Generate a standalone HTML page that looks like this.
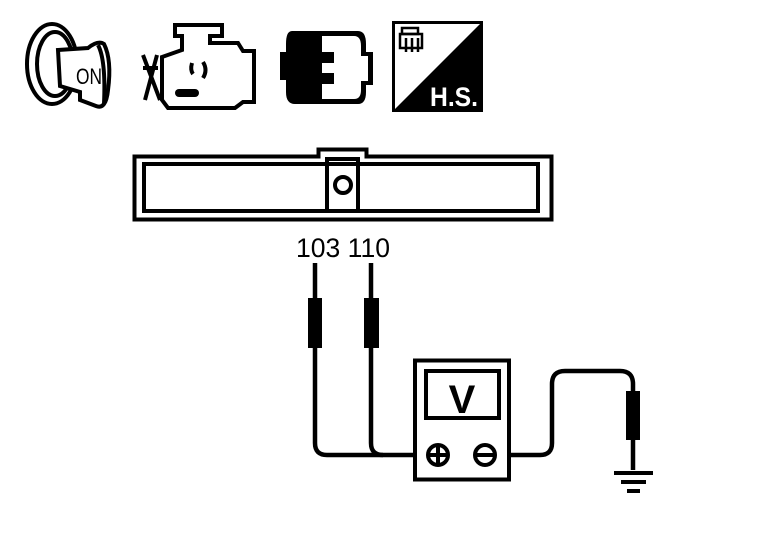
<!DOCTYPE html>
<html><head><style>body{margin:0;background:#fff}svg{display:block}</style></head>
<body>
<svg width="768" height="544" viewBox="0 0 768 544" xmlns="http://www.w3.org/2000/svg">
<!-- Key icon -->
<g fill="none" stroke="#000" stroke-width="4">
<ellipse cx="52" cy="64" rx="25" ry="40"/>
<ellipse cx="55" cy="64" rx="18" ry="32"/>
<path d="M58 50 L88 48 Q98 40 104 44 Q112 60 108 90 Q106 110 96 106 L80 100 L80 92 L60 86 Z" fill="#fff"/>
<path d="M98 45 Q106 60 104 104"/>
</g>
<text x="76" y="84" font-family="Liberation Sans,sans-serif" font-size="22" textLength="26" lengthAdjust="spacingAndGlyphs">ON</text>
<!-- Engine icon -->
<g fill="none" stroke="#000" stroke-width="4">
<path d="M175 25 L222 25 L222 36 L210 36 L210 43 L238 43 L243 51 L254 51 L254 102 L243 102 L235 108 L168 108 L162 100 L162 57 L182 50 L182 36 L175 36 Z"/>
<path d="M143 55 L160 100 M157 55 L145 100 M143 68 L158 68"/>
<path d="M192 63 Q190 70 193 74 M203 62 Q208 70 203 78"/>
</g>
<rect x="175" y="89" width="24" height="8" rx="4"/>
<!-- Connector icon -->
<path d="M292 31 L358 31 Q366 31 366 44 L366 52 L373 52 L373 85 L366 85 L366 92 Q366 104 358 104 L295 104 Q286 104 286 92 L286 80 L280 80 L280 52 L286 52 L286 44 Q286 31 292 31 Z" fill="#000"/>
<path d="M322 36 L354 36 Q361 36 361 46 L361 56 L368 56 L368 81 L361 81 L361 90 Q361 99 354 99 L322 99 L322 84 L334 84 L334 73 L322 73 L322 63 L334 63 L334 52 L322 52 Z" fill="#fff"/>
<!-- H.S. icon -->
<rect x="393.5" y="22.5" width="88" height="88" fill="#fff" stroke="#000" stroke-width="3"/>
<path d="M482 22 L482 111 L393 111 Z" fill="#000"/>
<g fill="none" stroke="#000" stroke-width="2.5"><rect x="402" y="28" width="16" height="6"/><rect x="400" y="34" width="22" height="14"/><path d="M406 38 v14 M412 38 v14 M418 38 v14"/></g>
<text x="430" y="106" font-family="Liberation Sans,sans-serif" font-weight="bold" font-size="27" fill="#fff" textLength="48" lengthAdjust="spacingAndGlyphs">H.S.</text>
<!-- Connector -->
<g fill="none" stroke="#000" stroke-width="4">
<path d="M134.5 156.5 L318.5 156.5 L318.5 149.5 L366.5 149.5 L366.5 156.5 L551.5 156.5 L551.5 219.5 L134.5 219.5 Z"/>
<path d="M144 164 L538 164 L538 211 L144 211 Z"/>
<rect x="327" y="159" width="31" height="52"/>
<circle cx="343" cy="185" r="8"/>
</g>
<text x="343" y="257" text-anchor="middle" font-family="Liberation Sans,sans-serif" font-size="27" textLength="94" lengthAdjust="spacingAndGlyphs">103 110</text>
<!-- probes -->
<g fill="none" stroke="#000" stroke-width="4.5">
<path d="M315 263 V443 Q315 455 327 455 H427"/>
<path d="M371 263 V443 Q371 455 383 455"/>
<path d="M495 455 H540 Q552 455 552 443 V384 Q552 371 565 371 H620 Q633 371 633 384 V470"/>
</g>
<rect x="308" y="298" width="14" height="50"/>
<rect x="364" y="298" width="15" height="50"/>
<rect x="626" y="391" width="14" height="49"/>
<rect x="614" y="471" width="39" height="4"/>
<rect x="621" y="480" width="25" height="4"/>
<rect x="627" y="489" width="13" height="4"/>
<!-- meter -->
<rect x="415" y="360.5" width="94" height="119" fill="#fff" stroke="#000" stroke-width="4"/>
<rect x="426" y="371" width="73" height="47" fill="none" stroke="#000" stroke-width="4"/>
<text x="462" y="413" text-anchor="middle" font-family="Liberation Sans,sans-serif" font-weight="bold" font-size="40">V</text>
<g fill="none" stroke="#000" stroke-width="4">
<circle cx="438" cy="455" r="10"/><path d="M430 455 H446 M438 447 V463"/>
<circle cx="485" cy="455" r="10"/><path d="M477 455 H493"/>
</g>
</svg>
</body></html>
